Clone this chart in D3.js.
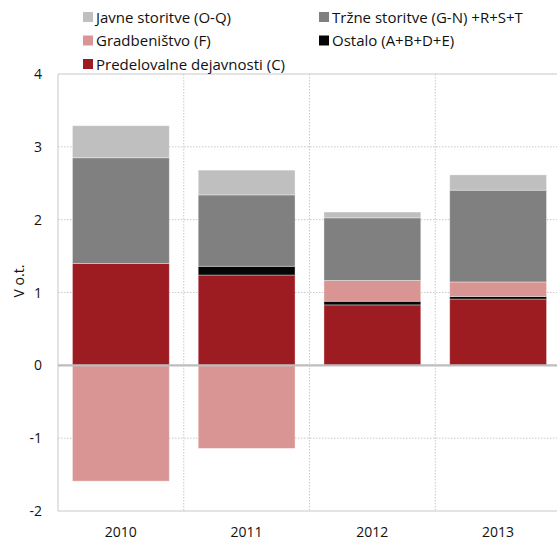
<!DOCTYPE html>
<html>
<head>
<meta charset="utf-8">
<script src="https://d3js.org/d3.v7.min.js"></script>
<style>
  body { margin: 0; background: #fff; }
  svg text { font-family: "Open Sans", sans-serif; fill: #111; }
</style>
</head>
<body>
<div id="chart"></div>
<script>
// leta (kategorije)
var leta = ["2010", "2011", "2012", "2013"];

// serije, v vrstnem redu zlaganja od spodaj navzgor
var predelovalne = [1.40, 1.24, 0.83, 0.91];
var ostalo       = [0.00, 0.12, 0.05, 0.035];
var gradbenistvo = [-1.59, -1.14, 0.285, 0.20];
var trzne        = [1.45, 0.98, 0.86, 1.26];
var javne        = [0.44, 0.34, 0.08, 0.21];

var yTicks = [-2, -1, 0, 1, 2, 3, 4];

var serije = [
  {key: "C",   ime: "Predelovalne dejavnosti (C)",  barva: "#9c1c22", vrednosti: predelovalne},
  {key: "O",   ime: "Ostalo (A+B+D+E)",             barva: "#050505", vrednosti: ostalo},
  {key: "F",   ime: "Gradbeništvo (F)",             barva: "#d99594", vrednosti: gradbenistvo},
  {key: "T",   ime: "Tržne storitve (G-N) +R+S+T",  barva: "#808080", vrednosti: trzne},
  {key: "J",   ime: "Javne storitve (O-Q)",         barva: "#bfbfbf", vrednosti: javne}
];

// vrstni red v legendi
var legenda = [
  {s: "J", col: 0, row: 0}, {s: "T", col: 1, row: 0},
  {s: "F", col: 0, row: 1}, {s: "O", col: 1, row: 1},
  {s: "C", col: 0, row: 2}
];

var sirina = 557, visina = 541;
var m = {top: 74, right: -4, bottom: 30, left: 58};

var svg = d3.select("#chart").append("svg")
  .attr("width", sirina).attr("height", visina);

var x = d3.scaleBand().domain(leta)
  .range([m.left, sirina - m.right]).paddingInner(0.23).paddingOuter(0.115);
var xMeje = d3.scaleBand().domain(leta).range([m.left, sirina - m.right]);
var y = d3.scaleLinear().domain([-2, 4]).range([visina - m.bottom, m.top]);

var dataTab = leta.map(function(l, i) {
  var o = {leto: l};
  serije.forEach(function(s) { o[s.key] = s.vrednosti[i]; });
  return o;
});

var stack = d3.stack().keys(serije.map(s => s.key)).offset(d3.stackOffsetDiverging);
var sloji = stack(dataTab);

// mreža
var g = svg.append("g");
g.selectAll(".hgrid").data(yTicks.filter(t => t !== 0 && t !== 4 && t !== -2)).enter()
  .append("line")
  .attr("x1", m.left).attr("x2", sirina)
  .attr("y1", d => y(d)).attr("y2", d => y(d))
  .attr("stroke", "#c8c8c8").attr("stroke-dasharray", "1.5,1.5");
g.selectAll(".vgrid").data(leta.slice(1)).enter()
  .append("line")
  .attr("x1", d => xMeje(d)).attr("x2", d => xMeje(d))
  .attr("y1", y(4)).attr("y2", y(-2))
  .attr("stroke", "#c8c8c8").attr("stroke-dasharray", "1.5,1.5");

// okvir
g.append("line").attr("x1", m.left).attr("x2", sirina).attr("y1", y(4)).attr("y2", y(4))
  .attr("stroke", "#c8c8c8");
g.append("line").attr("x1", m.left).attr("x2", sirina).attr("y1", y(-2)).attr("y2", y(-2))
  .attr("stroke", "#c8c8c8");
g.append("line").attr("x1", m.left).attr("x2", m.left).attr("y1", y(4)).attr("y2", y(-2))
  .attr("stroke", "#c8c8c8");

// stolpci
svg.append("g").selectAll("g").data(sloji).enter()
  .append("g")
  .attr("fill", (d, i) => serije[i].barva)
  .selectAll("rect").data(d => d).enter()
  .append("rect")
  .attr("x", d => x(d.data.leto))
  .attr("width", x.bandwidth())
  .attr("y", d => y(Math.max(d[0], d[1])))
  .attr("height", d => Math.abs(y(d[0]) - y(d[1])))
  .attr("stroke", "#fff").attr("stroke-opacity", 0.45).attr("stroke-width", 0.8);

// ničelna črta
svg.append("line").attr("x1", m.left).attr("x2", sirina).attr("y1", y(0)).attr("y2", y(0))
  .attr("stroke", "#bdbdbd").attr("stroke-width", 2.2);

// os y
svg.append("g").selectAll("text").data(yTicks).enter()
  .append("text")
  .attr("x", 42).attr("y", d => y(d) + 5)
  .attr("text-anchor", "end").style("font-size", "14px")
  .text(d => d);

svg.append("text")
  .attr("transform", "translate(24,281) rotate(-90)")
  .attr("text-anchor", "middle").style("font-size", "14px")
  .text("V o.t.");

// os x
svg.append("g").selectAll("text").data(leta).enter()
  .append("text")
  .attr("x", d => x(d) + x.bandwidth() / 2).attr("y", 537)
  .attr("text-anchor", "middle").style("font-size", "14px")
  .text(d => d);

// legenda
var leg = svg.append("g").selectAll("g").data(legenda).enter()
  .append("g")
  .attr("transform", d => "translate(" + (d.col ? 319 : 83) + "," + (12 + d.row * 23.5) + ")");
leg.append("rect").attr("width", 10).attr("height", 10)
  .attr("fill", d => serije.find(s => s.key === d.s).barva);
leg.append("text").attr("x", 13).attr("y", 10.5).style("font-size", "15px")
  .text(d => serije.find(s => s.key === d.s).ime);
</script>
</body>
</html>
